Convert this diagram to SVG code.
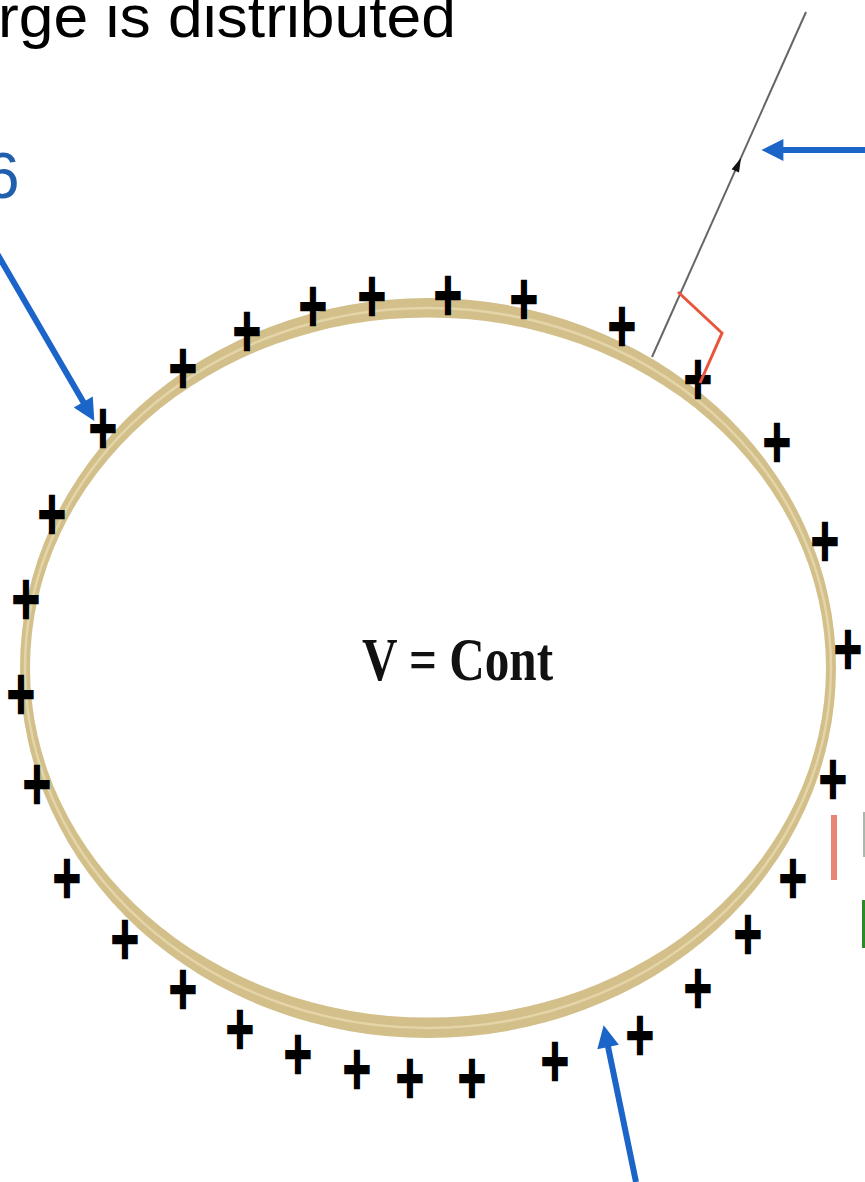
<svg xmlns="http://www.w3.org/2000/svg" width="865" height="1182" viewBox="0 0 865 1182">
<style>
.q{font-family:"DejaVu Sans",sans-serif;font-weight:bold;font-size:38px;fill:#000;stroke:#000;stroke-width:1.6px;text-anchor:middle;dominant-baseline:central}
.ttl{font-family:"Liberation Sans",Arial,sans-serif;font-size:60px;fill:#000}
.lbl{font-family:"Liberation Serif","Times New Roman",serif;font-weight:bold;font-size:62px;fill:#111}
.blue{stroke:#1b64c8;stroke-width:6;fill:none}
</style>
<defs>
<marker id="ab" viewBox="0 0 10 10" refX="2" refY="5" markerWidth="26" markerHeight="22" markerUnits="userSpaceOnUse" orient="auto">
<path d="M0,0 L10,5 L0,10 z" fill="#1b64c8"/>
</marker>
</defs>
<rect width="865" height="1182" fill="#fff"/>
<g id="title"><text class="ttl" x="-2" y="37" textLength="458" lengthAdjust="spacingAndGlyphs">rge is distributed</text></g>
<g id="label6"><text x="-16" y="198" font-family="Liberation Sans, Arial, sans-serif" font-size="64" fill="#1f5fae">6</text></g>
<g id="conductor">
<path fill="#d3bf8a" fill-rule="evenodd" d="M20,668 A408,370 0 1 0 836,668 A408,370 0 1 0 20,668 Z M30,667.5 A398,350 0 1 0 826,667.5 A398,350 0 1 0 30,667.5 Z"/>
<ellipse cx="428" cy="668" rx="403" ry="360" fill="none" stroke="#efe4bc" stroke-width="2.5" opacity="0.6"/>
</g>
<g id="center-label"><text class="lbl" x="362" y="680" textLength="191" lengthAdjust="spacingAndGlyphs">V = Cont</text></g>
<g id="charges">
<text class="q" transform="translate(103,427) scale(1,1.55)">+</text>
<text class="q" transform="translate(183,367) scale(1,1.55)">+</text>
<text class="q" transform="translate(247,330) scale(1,1.55)">+</text>
<text class="q" transform="translate(313,305) scale(1,1.55)">+</text>
<text class="q" transform="translate(372,295) scale(1,1.55)">+</text>
<text class="q" transform="translate(448,294) scale(1,1.55)">+</text>
<text class="q" transform="translate(524,298) scale(1,1.55)">+</text>
<text class="q" transform="translate(622,325) scale(1,1.55)">+</text>
<text class="q" transform="translate(698,378) scale(1,1.55)">+</text>
<text class="q" transform="translate(777,441) scale(1,1.55)">+</text>
<text class="q" transform="translate(825,540) scale(1,1.55)">+</text>
<text class="q" transform="translate(848,648) scale(1,1.55)">+</text>
<text class="q" transform="translate(833,778) scale(1,1.55)">+</text>
<text class="q" transform="translate(793,877) scale(1,1.55)">+</text>
<text class="q" transform="translate(748,933) scale(1,1.55)">+</text>
<text class="q" transform="translate(698,987) scale(1,1.55)">+</text>
<text class="q" transform="translate(640,1034) scale(1,1.55)">+</text>
<text class="q" transform="translate(555,1060) scale(1,1.55)">+</text>
<text class="q" transform="translate(472,1077) scale(1,1.55)">+</text>
<text class="q" transform="translate(410,1077) scale(1,1.55)">+</text>
<text class="q" transform="translate(357,1068) scale(1,1.55)">+</text>
<text class="q" transform="translate(298,1053) scale(1,1.55)">+</text>
<text class="q" transform="translate(240,1028) scale(1,1.55)">+</text>
<text class="q" transform="translate(183,988) scale(1,1.55)">+</text>
<text class="q" transform="translate(125,938) scale(1,1.55)">+</text>
<text class="q" transform="translate(67,877) scale(1,1.55)">+</text>
<text class="q" transform="translate(37,783) scale(1,1.55)">+</text>
<text class="q" transform="translate(21,693) scale(1,1.55)">+</text>
<text class="q" transform="translate(26,598) scale(1,1.55)">+</text>
<text class="q" transform="translate(52,513) scale(1,1.55)">+</text>
</g>
<g id="connectors">
<line class="blue" x1="-5" y1="250" x2="85.5" y2="405.8" marker-end="url(#ab)"/>
<line class="blue" x1="870" y1="150" x2="779" y2="150" stroke-width="7" marker-end="url(#ab)"/>
<line class="blue" x1="636" y1="1182" x2="607.2" y2="1042.6" marker-end="url(#ab)"/>
<line x1="652" y1="357" x2="806" y2="12" stroke="#666" stroke-width="2"/>
<polygon points="741,158 739,172.4 731.6,169.2" fill="#111"/>
<polyline points="678,292 722,333 700,383" fill="none" stroke="#e8553a" stroke-width="3"/>
</g>
<g id="edge-fragments">
<rect x="831" y="815" width="6" height="65" fill="#e8705a" opacity="0.85"/>
<rect x="863" y="812" width="2" height="45" fill="#a9b9a9"/>
<rect x="862" y="900" width="3" height="48" fill="#2a8a2a"/>
</g>
</svg>
